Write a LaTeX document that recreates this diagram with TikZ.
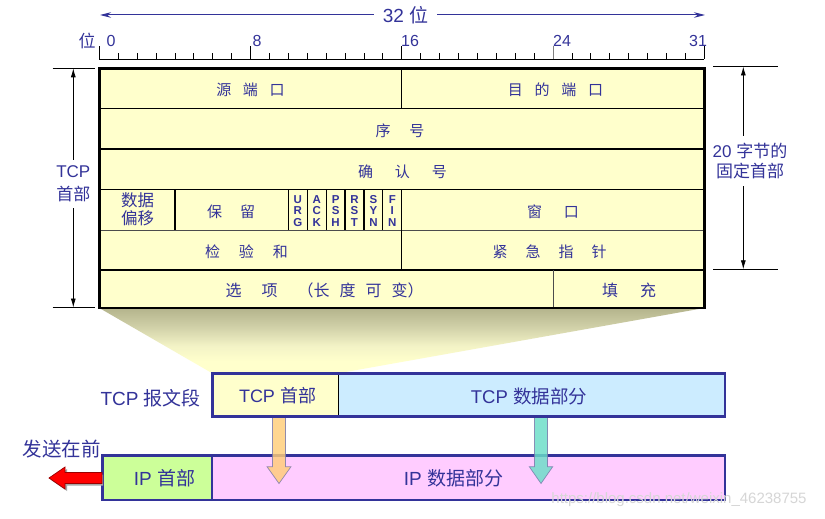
\documentclass[tikz,border=0pt]{standalone}
\usepackage{fontspec}
\setmainfont{Liberation Sans}
\newfontfamily\cjk{Noto Sans CJK SC}
\usetikzlibrary{arrows.meta}
\definecolor{txt}{RGB}{51,51,153}
\definecolor{hdr}{RGB}{255,255,204}
\definecolor{tcpdata}{RGB}{204,236,255}
\definecolor{iphdr}{RGB}{204,255,153}
\definecolor{ipdata}{RGB}{255,204,255}
\definecolor{khaki}{RGB}{180,180,140}
\definecolor{trA}{RGB}{205,205,165}
\definecolor{trB}{RGB}{243,243,198}
\definecolor{hdrarrow}{RGB}{255,205,120}
\definecolor{dataarrow}{RGB}{105,222,200}
\definecolor{arrowline}{RGB}{120,120,170}
\definecolor{wm}{RGB}{214,214,214}
\pgfdeclareverticalshading{trapsh}{100bp}{color(0bp)=(hdr); color(34bp)=(hdr); color(46bp)=(trB); color(62bp)=(trA); color(75bp)=(khaki); color(100bp)=(khaki)}
\newcommand{\fsz}[2]{\fontsize{#1}{#2}\selectfont}
\begin{document}
\begin{tikzpicture}[x=1pt,y=-1pt,
  lbl/.style={text=txt,inner sep=0pt},
  cell/.style={lbl,font=\cjk\fsz{15}{18}},
  cellb/.style={lbl,font=\cjk\fsz{16}{20}},
  flag/.style={lbl,font=\bfseries\fsz{11.5}{11.3},align=center},
  grid/.style={line width=1.2pt,black},
  outer/.style={line width=2.6pt,black},
  dim/.style={line width=0.8pt,black,{Latex[length=9pt,width=5pt]}-{Latex[length=9pt,width=5pt]}},
  ext/.style={line width=0.9pt,black},
  boxframe/.style={line width=2.5pt,draw=txt},
  blockarrow/.style={draw=arrowline,line width=0.7pt,opacity=0.82},
  bar/.style={inner sep=0pt,outer sep=0pt}]
\useasboundingbox (0,0) rectangle (825,519);
\fill[white] (0,0) rectangle (825,519);

% ---------- top "32 位" arrow ----------
\coordinate (topL) at (100,15);
\coordinate (topR) at (705,15);
\draw[txt,line width=1pt,{Stealth[length=11pt,width=5.5pt]}-{Stealth[length=11pt,width=5.5pt]}] (topL) -- (topR)
  node[pos=0.505,fill=white,inner xsep=9pt,inner ysep=2pt,text=txt,font=\fsz{19}{20}] (bits32) {32 {\cjk 位}};

% ---------- ruler ----------
\draw[line width=0.8pt] (99.3,59.3) -- (704.3,59.3);
\foreach \i in {0,...,32}{
  \pgfmathsetmacro\xx{99.3+\i*18.906}
  \ifnum\i=0 \draw[line width=0.8pt] (\xx,46.5) -- (\xx,59.3);
  \else\ifnum\i=8 \draw[line width=0.8pt] (\xx,46.5) -- (\xx,59.3);
  \else\ifnum\i=16 \draw[line width=0.8pt] (\xx,46.5) -- (\xx,59.3);
  \else\ifnum\i=24 \draw[line width=0.8pt,gray] (\xx,46.5) -- (\xx,59.3);
  \else\ifnum\i=32 \draw[line width=0.8pt] (\xx,46.5) -- (\xx,59.3);
  \else \draw[line width=0.8pt] (\xx,53.2) -- (\xx,59.3);
  \fi\fi\fi\fi\fi
}
\node[lbl,font=\cjk\fsz{17}{18}] (wei) at (87,41) {位};
\node[lbl,font=\fsz{16}{18}] (b0) at (111,40.5) {0};
\node[lbl,font=\fsz{16}{18}] (b8) at (257,40.5) {8};
\node[lbl,font=\fsz{16}{18}] (b16) at (410,40.5) {16};
\node[lbl,font=\fsz{16}{18}] (b24) at (562,40.5) {24};
\node[lbl,font=\fsz{16}{18}] (b31) at (698,40.5) {31};

% ---------- trapezoid shadow ----------
\shade[shading=trapsh] (99.3,308) -- (704.3,308) -- (338.3,373.3) -- (212.3,373.3) -- cycle;

% ---------- header table ----------
\fill[hdr] (99.3,68.3) rectangle (704.3,308);
\draw[grid] (99.3,108.5) -- (704.3,108.5);
\draw[grid] (99.3,149) -- (704.3,149);
\draw[grid] (99.3,189.3) -- (704.3,189.3);
\draw[grid,line width=1pt,black!70] (99.3,230) -- (704.3,230);
\draw[grid] (99.3,270) -- (704.3,270);
\draw[grid] (401.8,68.3) -- (401.8,108.5);
\draw[grid] (401.8,189.3) -- (401.8,270);
\draw[grid] (175,189.3) -- (175,230);
\foreach \xx in {288.3,307.2,326.1,345,363.9,382.8}{\draw[grid] (\xx,189.3) -- (\xx,230);}
\draw[grid,line width=1pt,black!70] (553,270) -- (553,308);
\draw[outer] (99.3,68.3) rectangle (704.3,308);

\node[cell] (srcport) at (250.5,90) {源\hspace{11.7pt}端\hspace{11.7pt}口};
\node[cell] (dstport) at (555.5,90) {目\hspace{11.7pt}的\hspace{11.7pt}端\hspace{11.7pt}口};
\node[cell] (seq) at (400,130.5) {序\hspace{19pt}号};
\node[cell] (ack) at (402.5,172) {确\hspace{22pt}认\hspace{22pt}号};
\node[lbl,font=\cjk\fsz{16.5}{18.5},align=center] (offset) at (137.5,209.5) {数据\\偏移};
\node[cell] (resv) at (231,211.5) {保\hspace{18pt}留};
\node[flag] (furg) at (297.8,210.8) {U\\R\\G};
\node[flag] (fack) at (316.7,210.8) {A\\C\\K};
\node[flag] (fpsh) at (335.6,210.8) {P\\S\\H};
\node[flag] (frst) at (354.5,210.8) {R\\S\\T};
\node[flag] (fsyn) at (373.4,210.8) {S\\Y\\N};
\node[flag] (ffin) at (392.3,210.8) {F\\I\\N};
\node[cell] (win) at (553,211.5) {窗\hspace{22pt}口};
\node[cell] (chk) at (246.5,252) {检\hspace{19pt}验\hspace{19pt}和};
\node[cell] (urg) at (549.5,252) {紧\hspace{18pt}急\hspace{18pt}指\hspace{18pt}针};
\node[cellb] (opts) at (324.5,290.5) {选\hspace{20pt}项\hspace{20pt}（长\hspace{10pt}度\hspace{10pt}可\hspace{10pt}变）};
\node[cellb] (pad) at (629,290.5) {填\hspace{22pt}充};

% ---------- left dimension "TCP 首部" ----------
\coordinate (lT) at (73.3,68.3);
\coordinate (lB) at (73.3,307.5);
\draw[ext] (52.5,68.3) -- (95,68.3);
\draw[ext] (52.5,307.5) -- (95,307.5);
\draw[dim] (lT) -- (lB);
\node[lbl,fill=white,inner xsep=2pt,inner ysep=6pt,font=\fsz{17}{23},align=center] (tcphdrlbl) at (73.3,184) {TCP\\{\cjk 首部}};

% ---------- right dimension "20 字节的 固定首部" ----------
\coordinate (rT) at (743.3,66.5);
\coordinate (rB) at (743.3,269.3);
\draw[ext] (713,66.5) -- (778,66.5);
\draw[ext] (713,269.3) -- (778,269.3);
\draw[dim] (rT) -- (rB);
\node[lbl,fill=white,inner xsep=2pt,inner ysep=7pt,font=\fsz{17}{20},align=center] (fixedlbl) at (750,161) {20 {\cjk 字节的}\\{\cjk 固定首部}};

% ---------- IP datagram ----------
\node[bar,fill=iphdr,minimum width=109.6pt,minimum height=44.3pt] (iph) at (157.5,477.85) {};
\node[bar,fill=ipdata,minimum width=512.7pt,minimum height=44.3pt] (ipd) at (468.65,477.85) {};
\draw[line width=2pt,txt] (iph.north east) -- (iph.south east);
\draw[boxframe] (iph.north west) rectangle (ipd.south east);
\node[lbl,font=\fsz{19}{20}] (iphlbl) at (164.5,478) {IP {\cjk 首部}};
\node[lbl,font=\fsz{19}{20}] (ipdlbl) at (453.5,478) {IP {\cjk 数据部分}};

% ---------- block arrows ----------
\filldraw[blockarrow,fill=hdrarrow] (272.5,416.7) -- (285.5,416.7) -- (285.5,466.7) -- (291,466.7) -- (279,483.5) -- (267,466.7) -- (272.5,466.7) -- cycle;
\filldraw[blockarrow,fill=dataarrow] (534.5,416.7) -- (547.5,416.7) -- (547.5,466.7) -- (552.7,466.7) -- (541,483.5) -- (529.3,466.7) -- (534.5,466.7) -- cycle;

% ---------- TCP segment ----------
\node[bar,fill=hdr,minimum width=126pt,minimum height=43.4pt] (tcph) at (275.3,395) {};
\node[bar,fill=tcpdata,minimum width=386.7pt,minimum height=43.4pt] (tcpd) at (531.65,395) {};
\draw[line width=1.2pt,black] (tcph.north east) -- (tcph.south east);
\draw[boxframe] (tcph.north west) rectangle (tcpd.south east);
\node[lbl,font=\fsz{18}{20}] (tcphlbl) at (277.5,396) {TCP {\cjk 首部}};
\node[lbl,font=\fsz{18.5}{20}] (tcpdlbl) at (529,396) {TCP {\cjk 数据部分}};
\node[lbl,font=\fsz{19}{20},anchor=east] (seglbl) at (201,398) {TCP {\cjk 报文段}};

% ---------- send-first arrow ----------
\node[lbl,font=\cjk\fsz{19.5}{20}] (sendfirst) at (62,449) {发送在前};
\filldraw[fill=black!35,draw=none] (51,480) -- (67,469) -- (67,474.5) -- (103,474.5) -- (103,485.5) -- (67,485.5) -- (67,491) -- cycle;
\filldraw[fill=red,draw=red!60!black,line width=0.7pt] (49,478) -- (65,467) -- (65,472.5) -- (102,472.5) -- (102,483.5) -- (65,483.5) -- (65,489) -- cycle;

% ---------- watermark ----------
\node[lbl,text=wm,font=\fsz{15}{16}] (wmark) at (679,500) {https://blog.csdn.net/weixin\_46238755};
\end{tikzpicture}
\end{document}
